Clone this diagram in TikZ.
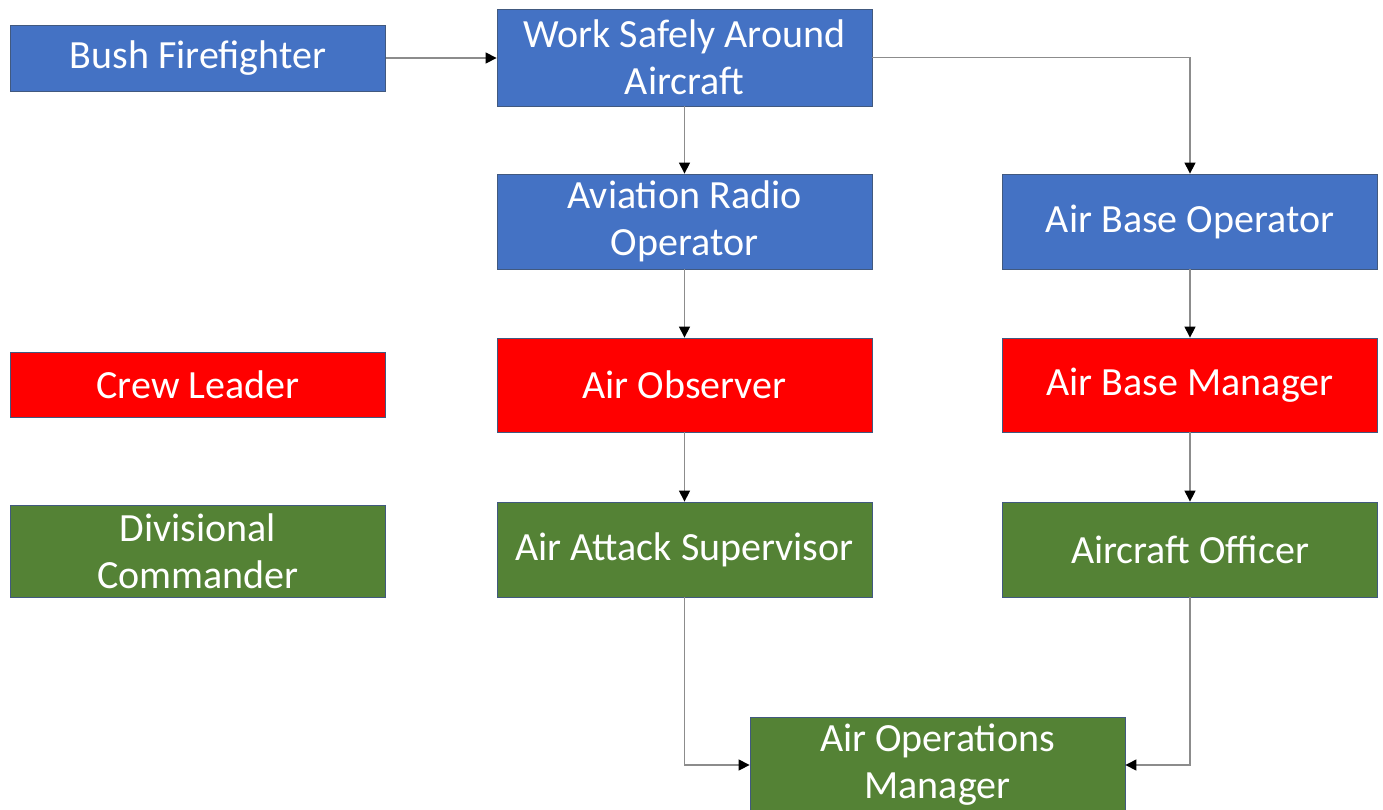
\documentclass[tikz,border=0pt]{standalone}
\usepackage{fontspec}
\setmainfont{Carlito}
\usetikzlibrary{arrows.meta}
\definecolor{bxblue}{HTML}{4472C4}
\definecolor{bxred}{HTML}{FF0000}
\definecolor{bxgreen}{HTML}{548235}
\definecolor{bxedge}{HTML}{41597F}
\definecolor{lnk}{HTML}{8C8C8C}
\tikzset{
  box/.style={draw=bxedge, line width=0.8pt, minimum width=375pt, align=center,
    text=white, font=\fontsize{40}{47}\selectfont, inner sep=0pt},
  bluebox/.style={box, fill=bxblue},
  redbox/.style={box, fill=bxred},
  greenbox/.style={box, fill=bxgreen},
  link/.style={draw=lnk, line width=1.2pt,
    -{Triangle[length=11pt,width=11pt,color=black]}},
}
\begin{document}
\begin{tikzpicture}[x=1pt,y=-1pt]
\useasboundingbox (0,0) rectangle (1383,809);
\node[bluebox, minimum height=66pt] (bf) at (198,58) {Bush Firefighter};
\node[bluebox, minimum height=97pt] (ws) at (684.5,57.5) {Work Safely Around\\Aircraft};
\node[bluebox, minimum height=95pt] (aro) at (684.5,221.5) {Aviation Radio\\Operator};
\node[bluebox, minimum height=95pt] (abo) at (1190,221.5) {Air Base Operator};
\node[redbox, minimum height=65pt] (cl) at (198,384.5) {Crew Leader};
\node[redbox, minimum height=94pt] (ao) at (684.5,385) {Air Observer};
\node[redbox, minimum height=94pt] (abm) at (1190,385) {Air Base Manager};
\node[greenbox, minimum height=92pt] (dc) at (198,551) {Divisional\\Commander};
\node[greenbox, minimum height=95pt] (aas) at (684.5,549.5) {Air Attack Supervisor};
\node[greenbox, minimum height=95pt] (aof) at (1190,549.5) {Aircraft Officer};
\node[greenbox, minimum height=95pt] (aom) at (937.5,765) {Air Operations\\Manager};
\draw[link] (bf.east) -- (ws.west |- bf.east);
\draw[link] (ws.east) -| (abo.north);
\draw[link] (ws.south) -- (aro.north);
\draw[link] (aro.south) -- (ao.north);
\draw[link] (abo.south) -- (abm.north);
\draw[link] (ao.south) -- (aas.north);
\draw[link] (abm.south) -- (aof.north);
\draw[link] (aas.south) |- (aom.west);
\draw[link] (aof.south) |- (aom.east);
\end{tikzpicture}
\end{document}
